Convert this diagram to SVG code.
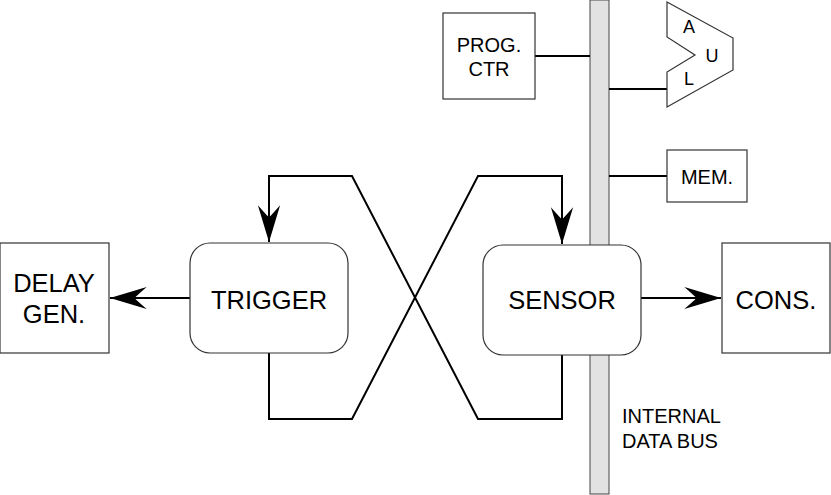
<svg xmlns="http://www.w3.org/2000/svg" width="831" height="495" viewBox="0 0 831 495">
<defs>
<style>
.box{fill:#fff;stroke:#333;stroke-width:1.2}
.wire{fill:none;stroke:#000;stroke-width:2}
.t{font-family:"Liberation Sans",Arial,sans-serif;fill:#000;text-anchor:middle}
.big{font-size:25.5px}
.sm{font-size:20px}
.alu{font-size:18px}
</style>
<marker id="ah" markerUnits="userSpaceOnUse" markerWidth="40" markerHeight="30" viewBox="-34 -12 36 24" refX="0" refY="0" orient="auto">
<path d="M0,0 L-33,-10 Q-25,-3 -22,0 Q-25,3 -33,10 Z" fill="#000"/>
</marker>
</defs>
<rect id="bus" x="590" y="0" width="19" height="494" fill="#e2e2e2" stroke="#444" stroke-width="1"/>
<g id="connectors">
<line class="wire" x1="535" y1="56" x2="590" y2="56"/>
<line class="wire" x1="609" y1="89" x2="667" y2="89"/>
<line class="wire" x1="609" y1="176" x2="667" y2="176"/>
<polyline class="wire" points="562,353 562,419 478,419 352,176 269,176 269,242" marker-end="url(#ah)"/>
<polyline class="wire" points="269,353 269,419 352,419 478,176 562,176 562,244" marker-end="url(#ah)"/>
<line class="wire" x1="190" y1="298" x2="110" y2="298" marker-end="url(#ah)"/>
<line class="wire" x1="641" y1="298" x2="721" y2="298" marker-end="url(#ah)"/>
</g>
<g id="prog-ctr">
<rect class="box" x="443" y="13" width="92" height="86"/>
<text class="t sm" x="489" y="52">PROG.</text>
<text class="t sm" x="489" y="76">CTR</text>
</g>
<g id="alu">
<polygon class="box" points="667,2 733,38 733,70 667,107 667,72 695,55 667,37"/>
<text class="t alu" x="689" y="33">A</text>
<text class="t alu" x="712" y="62">U</text>
<text class="t alu" x="689" y="85">L</text>
</g>
<g id="mem">
<rect class="box" x="667" y="150" width="80" height="52"/>
<text class="t sm" x="707" y="184">MEM.</text>
</g>
<g id="delay-gen">
<rect class="box" x="0" y="243" width="109" height="110"/>
<text class="t big" x="54" y="292">DELAY</text>
<text class="t big" x="54" y="323">GEN.</text>
</g>
<g id="trigger">
<rect class="box" x="190" y="243" width="158" height="110" rx="20" ry="20"/>
<text class="t big" x="269" y="309">TRIGGER</text>
</g>
<g id="sensor">
<rect class="box" x="483" y="245" width="158" height="110" rx="20" ry="20"/>
<text class="t big" x="562" y="309">SENSOR</text>
</g>
<g id="cons">
<rect class="box" x="722" y="243" width="108" height="110"/>
<text class="t big" x="776" y="309">CONS.</text>
</g>
<g id="bus-label">
<text class="t sm" x="622" y="423" style="text-anchor:start">INTERNAL</text>
<text class="t sm" x="622" y="448" style="text-anchor:start">DATA BUS</text>
</g>
</svg>
